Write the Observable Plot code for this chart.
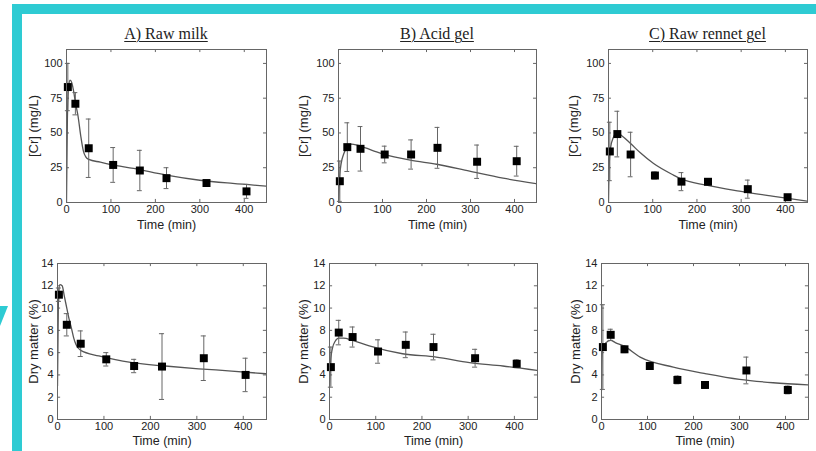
<!DOCTYPE html>
<html>
<head>
<meta charset="utf-8">
<script src="https://cdn.jsdelivr.net/npm/d3@7"></script>
<script src="https://cdn.jsdelivr.net/npm/@observablehq/plot@0.6"></script>
<style>
  html, body { margin: 0; padding: 0; background: #fff; }
  #root { position: relative; width: 816px; height: 451px; overflow: hidden; background: #fff; }
  #frame { position: absolute; left: 12px; top: 4px; width: 830px; height: 441px;
           border-left: 10px solid #2ecbd3; border-top: 10px solid #2ecbd3; border-bottom: 7px solid #2ecbd3; }
  #arrow { position: absolute; left: 0; top: 306px; width: 8px; height: 20px; background: #2ecbd3;
           clip-path: polygon(0 0, 100% 0, 0 100%); }
  .panel { position: absolute; }
  .title { position: absolute; font-family: "Liberation Serif", "DejaVu Serif", serif; font-size: 16px;
           text-decoration: underline; text-decoration-thickness: 1px; text-underline-offset: 2px;
           color: #222; text-align: center; line-height: 16px; white-space: nowrap; }
</style>
</head>
<body>
<div id="root">
  <div id="frame"></div>
  <div id="arrow"></div>
</div>
<script>
// ---------- data ----------
const titles = ["A) Raw milk", "B) Acid gel", "C) Raw rennet gel"];
const yLabels = ["[Cr] (mg/L)", "Dry matter (%)"];
const xLabel = "Time (min)";
const xTicks = [0, 100, 200, 300, 400];
const crTicks = [0, 25, 50, 75, 100];
const dmTicks = [0, 2, 4, 6, 8, 10, 12, 14];

const times = [3, 20, 50, 105, 165, 225, 315, 405];

const crRawMilk = [83, 71, 39, 27, 23, 17.5, 14, 8];
const crRawMilkErr = [17, 8, 21, 12.5, 14.5, 7.5, 1.5, 5];
const crAcidGel = [15.3, 39.8, 38.6, 34.5, 34.5, 39.3, 29.3, 29.7];
const crAcidGelErr = [14.5, 17.5, 16, 6, 10.5, 14.7, 12, 10.7];
const crRennetGel = [36.7, 49.2, 34.5, 19.4, 15, 14.9, 9.6, 3.8];
const crRennetGelErr = [21, 16.4, 16, 2.5, 6.5, 1, 6.5, 1];

const dmRawMilk = [11.2, 8.5, 6.8, 5.4, 4.8, 4.75, 5.5, 4.0];
const dmRawMilkErr = [0.6, 1, 1.15, 0.6, 0.6, 2.95, 2, 1.5];
const dmAcidGel = [4.7, 7.8, 7.4, 6.1, 6.7, 6.5, 5.5, 5.0];
const dmAcidGelErr = [1.8, 1.1, 0.9, 1.05, 1.15, 1.15, 0.8, 0.35];
const dmRennetGel = [6.5, 7.6, 6.3, 4.8, 3.55, 3.1, 4.4, 2.65];
const dmRennetGelErr = [3.8, 0.5, 0.3, 0.3, 0.35, 0.3, 1.2, 0.35];

// fitted model curves
const fitCrRawMilkT = [0, 2, 5, 8, 12, 16, 20, 26, 32, 38, 43, 50, 76, 100, 151, 225, 300, 374, 450];
const fitCrRawMilk  = [0, 60, 84, 88, 86, 80, 72, 62, 48, 37, 33, 31, 29, 27.3, 24.5, 19.7, 16, 13.7, 11.8];
const fitCrAcidGelT = [0, 3, 6, 12, 20, 30, 40, 50, 100, 163, 223, 298, 374, 450];
const fitCrAcidGel  = [0, 20, 28, 35, 40, 42, 41.5, 40.5, 35, 30.5, 27.5, 22.5, 17.5, 13.5];
const fitCrRennetGelT = [0, 2, 5, 10, 20, 30, 50, 72, 102, 147, 164, 221, 296, 370, 450];
const fitCrRennetGel  = [0, 30, 40, 46, 50, 48, 42.4, 35.7, 28, 19.7, 17, 12.5, 8.2, 4.6, 1];

const fitDmRawMilkT = [0, 2, 5, 10, 15, 20, 25, 30, 35, 40, 50, 89, 161, 232, 304, 375, 450];
const fitDmRawMilk  = [3, 11, 12.1, 12, 11, 10, 9, 8.2, 7.3, 6.7, 6.2, 5.7, 5.1, 4.8, 4.55, 4.35, 4.1];
const fitDmAcidGelT = [0, 3, 7, 12, 20, 30, 50, 86, 158, 231, 303, 375, 450];
const fitDmAcidGel  = [2.9, 5.5, 6.5, 7.0, 7.3, 7.3, 7.1, 6.6, 5.9, 5.6, 5.1, 4.8, 4.4];
const fitDmRennetGelT = [0, 1, 3, 10, 20, 30, 48, 84, 156, 228, 300, 373, 450];
const fitDmRennetGel  = [2.6, 5.5, 6.4, 6.9, 7.1, 6.9, 6.6, 5.6, 4.7, 4.1, 3.6, 3.3, 3.1];

// ---------- layout ----------
const panels = [
  {title: titles[0], yLabel: yLabels[0], ticks: crTicks, yMax: 110, y: crRawMilk, e: crRawMilkErr, ft: fitCrRawMilkT, fy: fitCrRawMilk, fl: 66, fr: 266, ftp: 49, fb: 202, ldx: -33, ldy: 22},
  {title: titles[1], yLabel: yLabels[0], ticks: crTicks, yMax: 110, y: crAcidGel, e: crAcidGelErr, ft: fitCrAcidGelT, fy: fitCrAcidGel, fl: 338, fr: 536, ftp: 49, fb: 202, ldx: -35, ldy: 22},
  {title: titles[2], yLabel: yLabels[0], ticks: crTicks, yMax: 110, y: crRennetGel, e: crRennetGelErr, ft: fitCrRennetGelT, fy: fitCrRennetGel, fl: 608, fr: 807, ftp: 49, fb: 202, ldx: -35, ldy: 22},
  {title: null, yLabel: yLabels[1], ticks: dmTicks, yMax: 14, y: dmRawMilk, e: dmRawMilkErr, ft: fitDmRawMilkT, fy: fitDmRawMilk, fl: 57, fr: 266, ftp: 263, fb: 419, ldx: -24, ldy: 21},
  {title: null, yLabel: yLabels[1], ticks: dmTicks, yMax: 14, y: dmAcidGel, e: dmAcidGelErr, ft: fitDmAcidGelT, fy: fitDmAcidGel, fl: 329, fr: 537, ftp: 263, fb: 419, ldx: -26, ldy: 21},
  {title: null, yLabel: yLabels[1], ticks: dmTicks, yMax: 14, y: dmRennetGel, e: dmRennetGelErr, ft: fitDmRennetGelT, fy: fitDmRennetGel, fl: 601, fr: 808, ftp: 263, fb: 419, ldx: -26, ldy: 21}
];

const root = document.getElementById("root");
const xMax = 450;
const mL = 50, mR = 8, mT = 10, mB = 32;

panels.forEach((p) => {
  const pts = times.map((t, i) => ({t, v: p.y[i], e: p.e[i]}));
  const fit = p.ft.map((t, i) => ({t, v: p.fy[i]}));
  const tickLenY = p.yMax * 0.02;
  const tickLenX = xMax * 0.015;
  const capW = 5.5;
  const chart = Plot.plot({
    width: mL + (p.fr - p.fl) + mR,
    height: mT + (p.fb - p.ftp) + mB,
    marginLeft: mL, marginRight: mR, marginTop: mT, marginBottom: mB,
    style: {background: "transparent", fontFamily: "'Liberation Sans', Arial, sans-serif", fontSize: "11px", color: "#222"},
    x: {domain: [0, xMax], ticks: xTicks, tickSize: 0, tickPadding: 3, label: null},
    y: {domain: [0, p.yMax], ticks: p.ticks, tickSize: 0, tickPadding: 4, label: null},
    marks: [
      // inward tick marks on all four sides
      Plot.ruleX(xTicks, {x: d => d, y1: 0, y2: tickLenY, stroke: "#666"}),
      Plot.ruleX(xTicks, {x: d => d, y1: p.yMax, y2: p.yMax - tickLenY, stroke: "#666"}),
      Plot.ruleY(p.ticks, {y: d => d, x1: 0, x2: tickLenX, stroke: "#666"}),
      Plot.ruleY(p.ticks, {y: d => d, x1: xMax, x2: xMax - tickLenX, stroke: "#666"}),
      // fitted curve
      Plot.line(fit, {x: "t", y: "v", stroke: "#555", strokeWidth: 1.3, curve: "monotone-x", clip: true}),
      // error bars
      Plot.ruleX(pts, {x: "t", y1: d => Math.max(0, d.v - d.e), y2: d => d.v + d.e, stroke: "#666", strokeWidth: 1}),
      Plot.ruleY(pts, {y: d => d.v + d.e, x1: d => d.t - capW, x2: d => d.t + capW, stroke: "#666", strokeWidth: 1}),
      Plot.ruleY(pts.filter(d => d.v - d.e > 0), {y: d => d.v - d.e, x1: d => d.t - capW, x2: d => d.t + capW, stroke: "#666", strokeWidth: 1}),
      // data markers
      Plot.dot(pts, {x: "t", y: "v", symbol: "square", r: 4.5, fill: "#000", stroke: null}),
      Plot.frame({stroke: "#666", strokeWidth: 1}),
      // axis titles
      Plot.text([p.yLabel], {frameAnchor: "left", textAnchor: "middle", lineAnchor: "middle", rotate: -90, dx: p.ldx, fontSize: 13, fill: "#222"}),
      Plot.text([xLabel], {frameAnchor: "bottom", textAnchor: "middle", lineAnchor: "middle", dy: p.ldy, fontSize: 12.5, fill: "#222"})
    ]
  });
  chart.classList.add("panel");
  chart.style.left = (p.fl - mL) + "px";
  chart.style.top = (p.ftp - mT) + "px";
  chart.style.maxWidth = "none";
  root.appendChild(chart);
  if (p.title) {
    const t = document.createElement("div");
    t.className = "title";
    t.textContent = p.title;
    t.style.left = p.fl + "px";
    t.style.width = (p.fr - p.fl) + "px";
    t.style.top = "26px";
    root.appendChild(t);
  }
});
</script>
</body>
</html>
